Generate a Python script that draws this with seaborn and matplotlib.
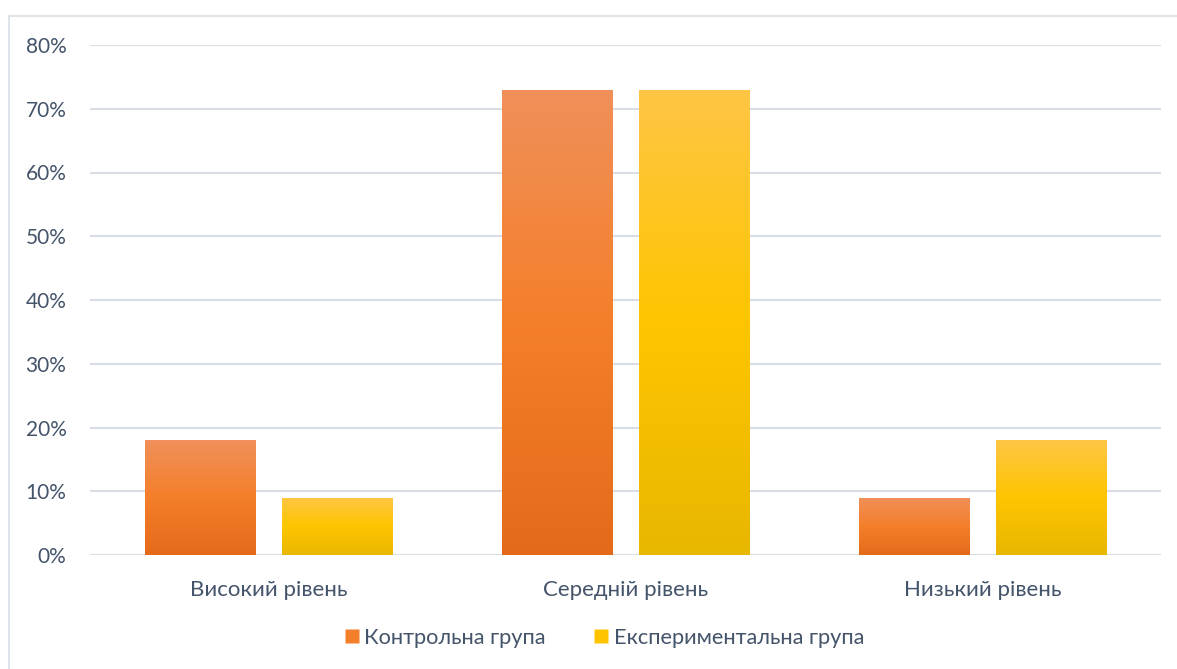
import numpy as np
import pandas as pd
import matplotlib
matplotlib.use("Agg")
import matplotlib.pyplot as plt
import seaborn as sns
from matplotlib.colors import LinearSegmentedColormap
from matplotlib.lines import Line2D
from matplotlib.patches import Rectangle

# ---- data ----
categories = ["Високий рівень", "Середній рівень", "Низький рівень"]
series_names = ["Контрольна група", "Експериментальна група"]
control_values = [0.18, 0.73, 0.09]
experimental_values = [0.09, 0.73, 0.18]
y_ticks = [0, 0.1, 0.2, 0.3, 0.4, 0.5, 0.6, 0.7, 0.8]

df = pd.DataFrame({
    "category": categories * 2,
    "group": [series_names[0]] * 3 + [series_names[1]] * 3,
    "value": control_values + experimental_values,
})

sns.set_theme(style="white")
plt.rcParams["font.family"] = ["Lato", "DejaVu Sans"]

text_color = "#44546A"
grid_color = "#D9DEE6"
base_colors = ["#F47F2A", "#FFC400"]
gradients = [
    ["#F0905A", "#F47F2A", "#E46A1A"],
    ["#FEC646", "#FFC500", "#E8B700"],
]

fig = plt.figure(figsize=(11.77, 6.69), dpi=100)
ax = fig.add_axes([90 / 1177, 1 - 555 / 669, (1161 - 90) / 1177, (555 - 45) / 669])

# figure border
fig.patches.append(Rectangle((9 / 1177, -0.05), 1.2, 1 - 16 / 669 + 0.05,
                             transform=fig.transFigure, fill=False,
                             edgecolor="#D9DEE6", linewidth=1.2, zorder=0))

sns.barplot(data=df, x="category", y="value", hue="group", order=categories,
            hue_order=series_names, palette=base_colors, width=0.767, gap=0.19,
            ax=ax, legend=False, errorbar=None, zorder=3)

# gradient fill for bars
for i, container in enumerate(ax.containers):
    cmap = LinearSegmentedColormap.from_list(f"g{i}", gradients[i][::-1])
    for bar in container:
        x0, y0 = bar.get_x(), bar.get_y()
        w, h = bar.get_width(), bar.get_height()
        grad = np.linspace(0, 1, 256).reshape(-1, 1)
        im = ax.imshow(grad, cmap=cmap, origin="lower", aspect="auto",
                       extent=[x0, x0 + w, y0, y0 + h], zorder=3.5)
        im.set_clip_path(bar)
        bar.set_edgecolor("none")

ax.set_xlim(-0.5, 2.5)
ax.set_ylim(0, 0.8)
ax.set_yticks(y_ticks)
ax.set_yticklabels([f"{int(round(t * 100))}%" for t in y_ticks])
ax.yaxis.grid(True, color=grid_color, linewidth=1.5, zorder=0)
ax.set_axisbelow(True)
for s in ax.spines.values():
    s.set_visible(False)
ax.tick_params(axis="both", length=0, labelcolor=text_color)
ax.tick_params(axis="y", pad=17, labelsize=15)
ax.tick_params(axis="x", pad=18, labelsize=16)
ax.set_xlabel("")
ax.set_ylabel("")

handles = [Line2D([0], [0], marker="s", linestyle="none", markersize=9.4,
                  markerfacecolor=c, markeredgecolor="none") for c in base_colors]
fig.legend(handles, series_names, loc="center", bbox_to_anchor=(603.5 / 1177, 1 - 638 / 669),
           ncol=2, frameon=False, fontsize=15.7, labelcolor=text_color,
           handletextpad=0.17, columnspacing=2.15, handlelength=0.8)

fig.savefig("out.png", dpi=100)
